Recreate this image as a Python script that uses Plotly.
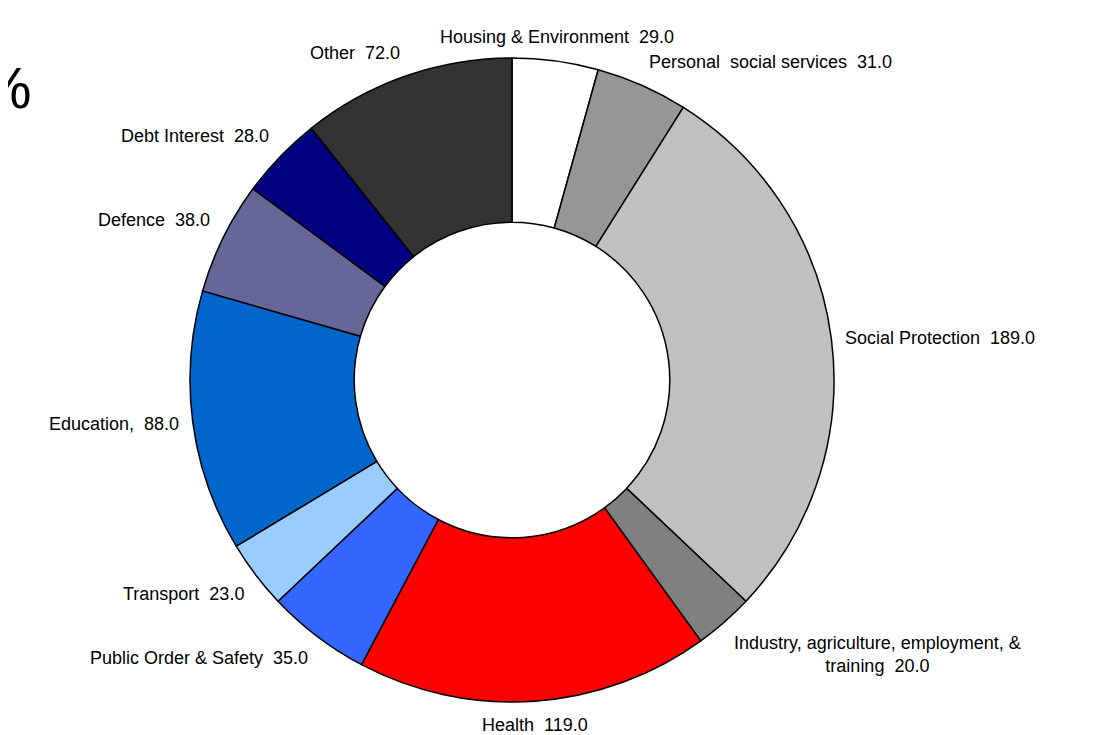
import math
import plotly.graph_objects as go

# spending by function, clockwise from 12 o'clock
categories = ['Housing & Environment', 'Personal  social services', 'Social Protection',
              'Industry, agriculture, employment, &<br>training', 'Health',
              'Public Order & Safety', 'Transport', 'Education,', 'Defence',
              'Debt Interest', 'Other']
values = [29.0, 31.0, 189.0, 20.0, 119.0, 35.0, 23.0, 88.0, 38.0, 28.0, 72.0]
colors = ['#FFFFFF', '#969696', '#C0C0C0', '#808080', '#FF0000', '#3366FF',
          '#99CCFF', '#0066CC', '#666699', '#000080', '#333333']

W, H = 1115, 735
cx, cy, R = 504, 372, 322   # pie centre and radius in figure pixels
FONT = 'Liberation Sans, Arial'

fig = go.Figure()
fig.add_trace(go.Pie(
    labels=categories, values=values,
    textinfo='none', sort=False, direction='clockwise', rotation=0, hole=0.49,
    marker=dict(colors=colors, line=dict(color='black', width=1.5)),
    showlegend=False, hoverinfo='label+value',
    domain=dict(x=[(cx - R) / W, (cx + R) / W], y=[(H - cy - R) / H, (H - cy + R) / H]),
))

# data labels just outside the ring, anchored by the box corner facing the slice
total = sum(values)
cum = 0
for cat, v in zip(categories, values):
    ang = math.radians((cum + v / 2) / total * 360)
    cum += v
    s, c = math.sin(ang), math.cos(ang)
    rl = R + 12
    px_, py_ = cx + rl * s, cy - rl * c
    xa = 'left' if s > 0.25 else ('right' if s < -0.25 else 'center')
    ya = 'bottom' if c > 0.25 else ('top' if c < -0.25 else 'middle')
    fig.add_annotation(text='%s  %.1f' % (cat, v), x=px_ / W, y=1 - py_ / H,
                       xref='paper', yref='paper', xanchor=xa, yanchor=ya,
                       showarrow=False, align='center',
                       font=dict(family=FONT, size=18, color='black'))

fig.add_annotation(text='%', x=0, y=1 - 79 / H, xref='paper', yref='paper',
                   xanchor='right', yanchor='middle', xshift=26, showarrow=False,
                   font=dict(family=FONT, size=58, color='black'))

fig.update_layout(
    width=W, height=H,
    margin=dict(l=0, r=0, t=0, b=0),
    paper_bgcolor='white', plot_bgcolor='white',
)
fig.write_html("out.html")
